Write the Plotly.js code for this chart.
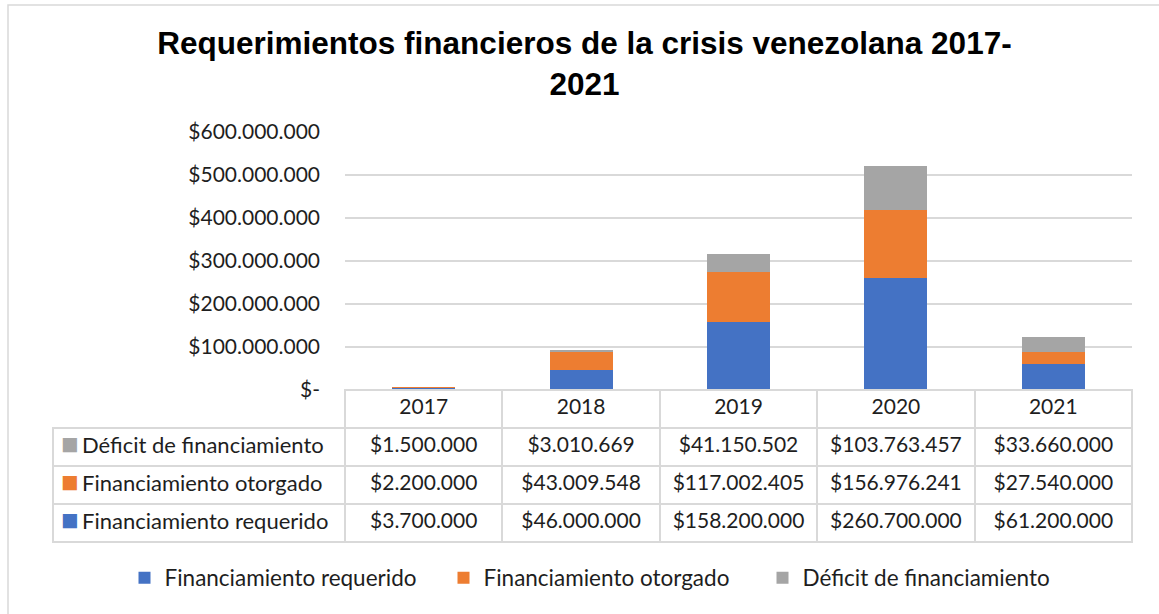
<!DOCTYPE html>
<html>
<head>
<meta charset="utf-8">
<script src="https://cdn.plot.ly/plotly-3.0.1.min.js"></script>
<style>html,body{margin:0;padding:0;background:#fff;}#chart{width:1159px;height:614px;}</style>
</head>
<body>
<div id="chart"></div>
<script>
// ---- data ----
var years = ['2017', '2018', '2019', '2020', '2021'];
var requerido = [3700000, 46000000, 158200000, 260700000, 61200000];
var otorgado = [2200000, 43009548, 117002405, 156976241, 27540000];
var deficit = [1500000, 3010669, 41150502, 103763457, 33660000];
var seriesNames = ['Financiamiento requerido', 'Financiamiento otorgado', 'Déficit de financiamiento'];
var yTicks = [0, 100000000, 200000000, 300000000, 400000000, 500000000, 600000000];

var colors = ['#4472C4', '#ED7D31', '#A5A5A5'];
var W = 1159, H = 614;
var FONT = 'Lato, Carlito, Calibri, sans-serif';
var TXT = '#1e1e1e';
var NB = '\u00a0';
var CLEAR = 'rgba(0,0,0,0)';

function fmt(v) {
  if (v === 0) return '$-';
  return '$' + String(v).replace(/\B(?=(\d{3})+(?!\d))/g, '.');
}

var plotL = 345, plotR = 1132, plotT = 132, plotB = 390, tblL = 53, tblB = 543;

var seriesVals = [requerido, otorgado, deficit];
var traces = seriesVals.map(function (vals, i) {
  return {
    type: 'bar', x: years, y: vals, name: seriesNames[i],
    marker: {color: colors[i], line: {width: 0}},
    hoverinfo: 'skip'
  };
});

// data table (rows in reverse order as in the reference)
var rowOrder = [2, 1, 0];
var tableCols = [rowOrder.map(function () { return ''; })];
years.forEach(function (y, j) {
  tableCols.push(rowOrder.map(function (i) { return fmt(seriesVals[i][j]); }));
});
var colW = (plotR - plotL) / years.length;
var lineCols = years.map(function () { return '#D9D9D9'; });
var tblDomainY = [(H - tblB) / H, (H - plotB) / H];
traces.push({
  type: 'table',
  domain: {x: [tblL / W, plotR / W], y: tblDomainY},
  columnwidth: [plotL - tblL].concat(years.map(function () { return colW; })),
  header: {
    values: [''].concat(years),
    height: 38,
    align: 'center',
    fill: {color: [CLEAR].concat(years.map(function () { return 'white'; }))},
    line: {color: [CLEAR].concat(lineCols), width: 2},
    font: {family: FONT, size: 21, color: TXT}
  },
  cells: {
    values: tableCols,
    height: 38,
    align: 'center',
    fill: {color: 'white'},
    line: {color: '#D9D9D9', width: 2},
    font: {family: FONT, size: 21, color: TXT}
  }
});
// colour keys of the data table rows
traces.push({
  type: 'table',
  domain: {x: [tblL / W, (tblL + 28) / W], y: tblDomainY},
  header: {values: [''], height: 38, fill: {color: CLEAR}, line: {color: CLEAR, width: 0}},
  cells: {
    values: [rowOrder.map(function () { return '■'; })],
    height: 38, align: 'left',
    fill: {color: CLEAR}, line: {color: CLEAR, width: 0},
    font: {family: 'DejaVu Sans', size: 18.5, color: [rowOrder.map(function (i) { return colors[i]; })]}
  }
});
// series names of the data table rows
traces.push({
  type: 'table',
  domain: {x: [74 / W, (plotL - 4) / W], y: tblDomainY},
  header: {values: [''], height: 38, fill: {color: CLEAR}, line: {color: CLEAR, width: 0}},
  cells: {
    values: [rowOrder.map(function (i) { return seriesNames[i].split(' ').join(NB); })],
    height: 38, align: 'left',
    fill: {color: CLEAR}, line: {color: CLEAR, width: 0},
    font: {family: FONT, size: 22, color: TXT}
  }
});

var layout = {
  width: W, height: H,
  margin: {l: 0, r: 0, t: 0, b: 0},
  paper_bgcolor: 'white', plot_bgcolor: 'white',
  barmode: 'stack', bargap: 0.6,
  showlegend: true,
  title: {
    text: 'Requerimientos financieros de la crisis venezolana 2017-<br>2021',
    font: {family: 'Liberation Sans, Arial, sans-serif', size: 31.5, weight: 'bold', color: '#000'},
    x: 584.5 / W, xanchor: 'center', xref: 'paper',
    y: 1 - 54 / H, yanchor: 'top', yref: 'container'
  },
  xaxis: {
    domain: [plotL / W, plotR / W], type: 'category',
    showticklabels: false, ticks: '', showgrid: false, zeroline: false,
    showline: true, linecolor: '#D9D9D9', linewidth: 2, fixedrange: true
  },
  yaxis: {
    domain: [(H - plotB) / H, (H - plotT) / H],
    range: [0, 600000000], tickvals: yTicks, ticktext: yTicks.map(fmt),
    showgrid: true, gridcolor: '#D9D9D9', gridwidth: 1.5,
    zeroline: false, showline: false, ticks: '',
    ticklabelstandoff: 24, automargin: false,
    tickfont: {family: FONT, size: 21, color: TXT}, fixedrange: true
  },
  legend: {
    orientation: 'h', x: 603 / W, xanchor: 'center', y: (H - 578) / H, yanchor: 'middle',
    font: {family: FONT, size: 22.5, color: TXT}, traceorder: 'normal',
    itemwidth: 30, entrywidth: 274, entrywidthmode: 'pixels'
  },
  shapes: [{
    type: 'rect', xref: 'paper', yref: 'paper',
    x0: 8 / W, x1: 1.05, y0: -0.05, y1: 1 - 5 / H,
    line: {color: '#D9D9D9', width: 1.5}, fillcolor: CLEAR, layer: 'below'
  }]
};

Plotly.newPlot('chart', traces, layout, {displayModeBar: false, staticPlot: true});
</script>
</body>
</html>
